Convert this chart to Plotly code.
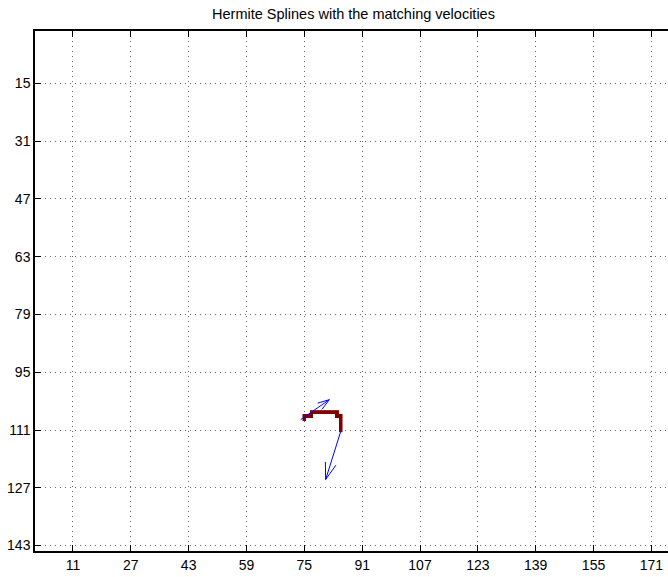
import numpy as np
import plotly.graph_objects as go

# ---- data ----
title_text = "Hermite Splines with the matching velocities"
x_ticks = [11, 27, 43, 59, 75, 91, 107, 123, 139, 155, 171]
y_ticks = [15, 31, 47, 63, 79, 95, 111, 127, 143]

# pixels of the rasterised Hermite spline (image column, image row)
spline_cols = [75, 75, 76, 77, 77, 78, 79, 80, 81, 82, 83, 84, 84, 85, 85, 85, 85, 85]
spline_rows = [108, 107, 107, 107, 106, 106, 106, 106, 106, 106, 106, 106, 107, 107, 108, 109, 110, 111]

# velocity arrows (quiver): tails and vectors
arrow_x = [74.0, 85.1]
arrow_y = [108.1, 111.3]
arrow_u = [7.9, -4.2]
arrow_v = [-5.5, 13.4]

# ---- build heatmap grid for spline pixels ----
cols = np.arange(min(spline_cols), max(spline_cols) + 1)
rows = np.arange(min(spline_rows), max(spline_rows) + 1)
z = np.full((len(rows), len(cols)), np.nan)
for c, r in zip(spline_cols, spline_rows):
    z[r - rows[0], c - cols[0]] = 1.0

fig = go.Figure()
fig.add_trace(go.Heatmap(
    x=cols, y=rows, z=z,
    colorscale=[[0, "#800000"], [1, "#800000"]],
    zmin=0, zmax=1, showscale=False, hoverinfo="skip",
))

# ---- quiver arrows (MATLAB style heads) ----
alpha, beta = 0.33, 0.33
qx, qy = [], []
for x0, y0, u, v in zip(arrow_x, arrow_y, arrow_u, arrow_v):
    tx, ty = x0 + u, y0 + v
    qx += [x0, tx, None]
    qy += [y0, ty, None]
    b1x = tx - alpha * (u + beta * v)
    b1y = ty - alpha * (v - beta * u)
    b2x = tx - alpha * (u - beta * v)
    b2y = ty - alpha * (v + beta * u)
    qx += [b1x, tx, b2x, None]
    qy += [b1y, ty, b2y, None]

fig.add_trace(go.Scatter(
    x=qx, y=qy, mode="lines",
    line=dict(color="#0000ff", width=1),
    hoverinfo="skip", showlegend=False,
))

font_family = "Liberation Sans, Arial, Helvetica, sans-serif"
axis_common = dict(
    ticks="inside", ticklen=6, tickwidth=1, tickcolor="black",
    showline=True, linecolor="black", linewidth=1.5,
    showgrid=True, gridcolor="#666666", gridwidth=1, griddash="1px,4px",
    zeroline=False, automargin=False,
    tickfont=dict(family=font_family, size=14, color="black"),
)

fig.update_xaxes(range=[0.5, 175.6], tickvals=x_ticks, ticktext=[str(t) for t in x_ticks],
                 mirror="ticks", **axis_common)
fig.update_yaxes(range=[144.5, 0.5], tickvals=y_ticks, ticktext=[str(t) for t in y_ticks],
                 mirror=False, **axis_common)

fig.update_layout(
    template="none",
    width=668, height=577, autosize=False,
    margin=dict(l=35, r=0, t=31, b=26),
    paper_bgcolor="white", plot_bgcolor="white",
    showlegend=False,
    title=dict(text=title_text, x=353.5 / 668, xref="container", xanchor="center",
               y=1 - 14 / 577, yref="container", yanchor="middle",
               font=dict(family=font_family, size=14.5, color="black")),
)

fig.write_html("out.html",
               config={"displayModeBar": False},
               post_script="document.body.style.margin='0';document.body.style.overflow='hidden';")
